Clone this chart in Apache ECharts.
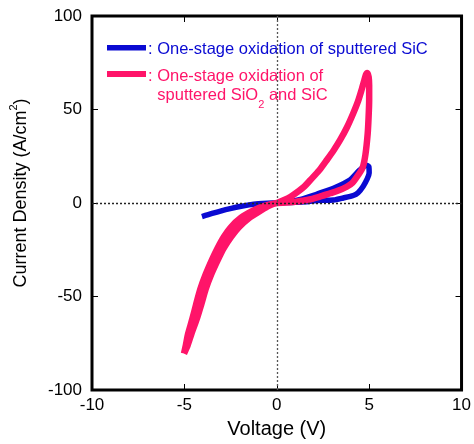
<!DOCTYPE html>
<html>
<head>
<meta charset="utf-8">
<script src="https://cdn.jsdelivr.net/npm/echarts@6/dist/echarts.min.js"></script>
<style>
html,body{margin:0;padding:0;background:#fff;}
#chart{width:474px;height:444px;}
</style>
</head>
<body>
<div id="chart"></div>
<script>
// ---- data ----
const xTickValues = [-10, -5, 0, 5, 10];
const yTickValues = [-100, -50, 0, 50, 100];
const xAxisTitle = 'Voltage (V)';
const yAxisTitle = '{n|Current Density (A/cm}{sup|2}{n|)}';
const seriesNames = ['One-stage oxidation of sputtered SiC', 'One-stage oxidation of sputtered SiO2 and SiC'];

// Blue: one-stage oxidation of sputtered SiC (voltage V, current density A/cm2)
const blueV = [-4.05,-3.5,-3.0,-2.46,-2.0,-1.5,-1.0,-0.5,0,0.5,1.0,1.5,2.18,3.07,3.6,4.14,4.4,4.68,4.9,5.0,4.98,4.85,4.5,3.96,3.07,2.18,1.29,0.6,0];
const blueJ = [-7.3,-5.6,-4.2,-2.9,-1.9,-1.0,-0.4,-0.1,0,0.2,0.4,0.6,1.3,1.6,2.7,4.0,5.5,9.0,13.0,16.0,19.5,20.2,17.7,12.3,7.9,4.8,1.9,0.6,0];

// Pink: one-stage oxidation of sputtered SiO2 and SiC
const pinkV = [-5.02,-4.92,-4.80,-4.57,-4.36,-4.135,-3.84,-3.49,-3.20,-2.86,-2.49,-1.95,-1.26,-0.67,0,
  0.4,0.75,1.2,1.5,1.82,2.3,2.71,3.1,3.43,3.8,4.14,4.4,4.59,4.72,4.82,4.9,4.97,5.0,5.0,4.97,4.92,4.8,4.65,4.41,4.1,3.79,3.3,2.89,2.3,1.64,1.0,0.5,0,
  -0.43,-0.86,-1.49,-2.05,-2.46,-2.86,-3.17,-3.54,-3.845,-4.08,-4.33,-4.62,-4.82,-5.02];
const pinkJ = [-80.5,-76,-70,-62,-54,-46,-38,-30,-24,-18,-13,-8,-4,-1.5,0,
  1.6,3.4,6.5,8.9,12.3,17.5,23,28.5,33.7,40.5,48,54.5,60.5,65,68.5,69.5,67.5,63,55,46,37,26,19,15,10.8,8.7,6.5,5.2,3.3,1.6,0.7,0.2,0,
  -1.5,-4,-8,-13,-18,-24,-30,-38,-46,-54,-62,-70,-76,-80.5];

// ---- styles ----
const FONT = '"Liberation Sans", Arial, Helvetica, sans-serif';
const BLUE = '#0a0ad2';
const PINK = '#ff1469';

const pairs = (xs, ys) => xs.map((x, i) => [x, ys[i]]);

const chart = echarts.init(document.getElementById('chart'), null, {renderer: 'canvas'});

const xMin = xTickValues[0], xMax = xTickValues[xTickValues.length - 1];
const yMin = yTickValues[0], yMax = yTickValues[yTickValues.length - 1];
const xInt = xTickValues[1] - xTickValues[0];
const yInt = yTickValues[1] - yTickValues[0];

const tickStyle = {show: true, inside: true, length: 6, lineStyle: {color: '#000', width: 1}};
const noLine = {show: false, onZero: false};

chart.setOption({
  animation: false,
  backgroundColor: '#fff',
  grid: {left: 89, top: 16, right: 11.5, bottom: 54, show: true, borderColor: '#000', borderWidth: 3, backgroundColor: 'transparent', containLabel: false},
  xAxis: [
    {type: 'value', min: xMin, max: xMax, interval: xInt, position: 'bottom',
     axisLine: noLine, axisTick: tickStyle, splitLine: {show: false},
     axisLabel: {fontSize: 17, color: '#000', margin: 7, fontFamily: FONT},
     name: xAxisTitle, nameLocation: 'middle', nameGap: 29,
     nameTextStyle: {fontSize: 20, color: '#000', fontFamily: FONT}},
    {type: 'value', min: xMin, max: xMax, interval: xInt, position: 'top',
     axisLine: noLine, axisTick: tickStyle, splitLine: {show: false},
     axisLabel: {show: false}}
  ],
  yAxis: [
    {type: 'value', min: yMin, max: yMax, interval: yInt, position: 'left',
     axisLine: noLine, axisTick: tickStyle, splitLine: {show: false},
     axisLabel: {fontSize: 17, color: '#000', margin: 10, fontFamily: FONT},
     name: yAxisTitle, nameLocation: 'middle', nameGap: 58,
     nameTextStyle: {color: '#000', fontFamily: FONT, padding: [0, 0, 0, 20],
       rich: {
         n: {fontSize: 18, color: '#000', fontFamily: FONT, lineHeight: 26, verticalAlign: 'middle'},
         sup: {fontSize: 11, color: '#000', fontFamily: FONT, lineHeight: 12, verticalAlign: 'top'}
       }}},
    {type: 'value', min: yMin, max: yMax, interval: yInt, position: 'right',
     axisLine: noLine, axisTick: tickStyle, splitLine: {show: false},
     axisLabel: {show: false}}
  ],
  series: [
    {name: seriesNames[0], type: 'line', data: pairs(blueV, blueJ), showSymbol: false, symbol: 'none',
     smooth: 0.25, z: 3, lineStyle: {color: BLUE, width: 5.5, join: 'round', cap: 'butt'}},
    {name: seriesNames[1], type: 'line', data: pairs(pinkV, pinkJ), showSymbol: false, symbol: 'none',
     smooth: 0.25, z: 4, lineStyle: {color: PINK, width: 6.5, join: 'round', cap: 'butt'}},
    {type: 'line', data: [], z: 10, silent: true,
     markLine: {silent: true, symbol: ['none', 'none'], label: {show: false}, animation: false,
       data: [
         {xAxis: 0, lineStyle: {color: '#555', width: 1.3, type: [2, 2]}},
         {yAxis: 0, lineStyle: {color: '#222', width: 1.3, type: [2, 2]}}
       ]}}
  ],
  graphic: [
    {type: 'rect', shape: {x: 107, y: 45, width: 39, height: 5.5}, style: {fill: BLUE}, z: 5},
    {type: 'text', x: 148, y: 49, z: 5, style: {text: ': One-stage oxidation of sputtered SiC', fill: BLUE, fontSize: 16.5, fontFamily: FONT, verticalAlign: 'middle', align: 'left'}},
    {type: 'rect', shape: {x: 107, y: 71, width: 39, height: 6}, style: {fill: PINK}, z: 5},
    {type: 'text', x: 148, y: 76, z: 5, style: {text: ': One-stage oxidation of', fill: PINK, fontSize: 16.5, fontFamily: FONT, verticalAlign: 'middle', align: 'left'}},
    {type: 'text', x: 157.3, y: 87, z: 5, style: {text: '{n|sputtered SiO}{sub|2}{n| and SiC}', fill: PINK, fontFamily: FONT, verticalAlign: 'top', align: 'left',
      rich: {
        n: {fontSize: 16.5, fill: PINK, fontFamily: FONT, lineHeight: 20, verticalAlign: 'top'},
        sub: {fontSize: 11, fill: PINK, fontFamily: FONT, lineHeight: 36, verticalAlign: 'middle'}
      }}}
  ]
});
</script>
</body>
</html>
